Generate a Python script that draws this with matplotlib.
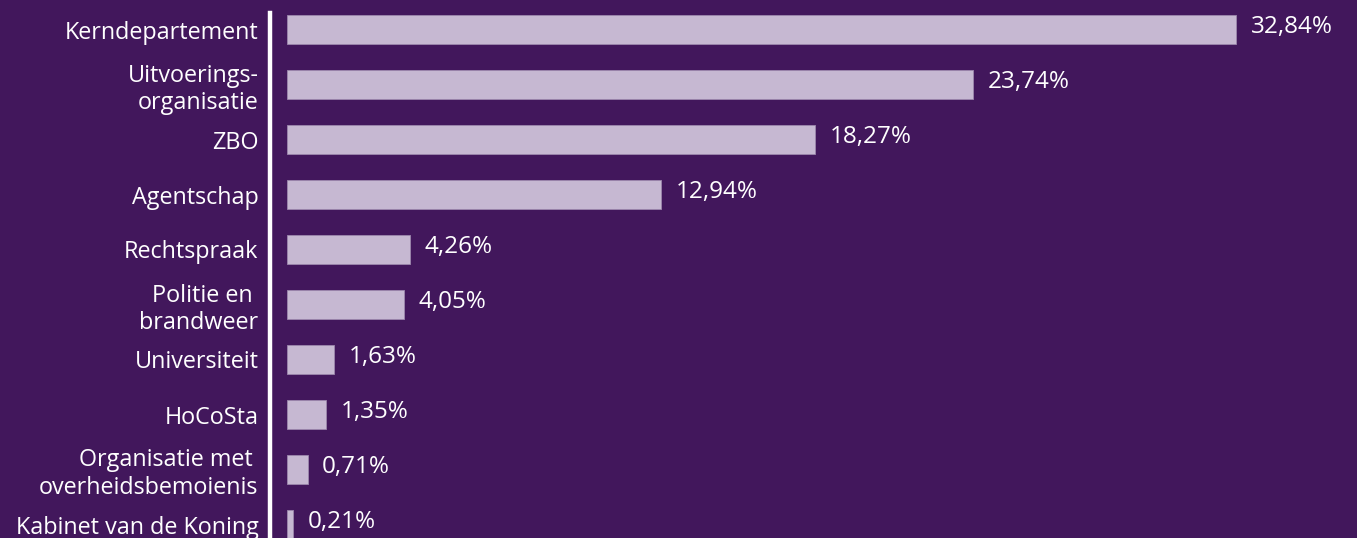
import matplotlib
matplotlib.use("Agg")
from matplotlib import pyplot as plt
from matplotlib.lines import Line2D

categories = [
    "Kerndepartement",
    "Uitvoerings-\norganisatie",
    "ZBO",
    "Agentschap",
    "Rechtspraak",
    "Politie en \nbrandweer",
    "Universiteit",
    "HoCoSta",
    "Organisatie met \noverheidsbemoienis",
    "Kabinet van de Koning",
]
values = [32.84, 23.74, 18.27, 12.94, 4.26, 4.05, 1.63, 1.35, 0.71, 0.21]
value_labels = ["32,84%", "23,74%", "18,27%", "12,94%", "4,26%",
                "4,05%", "1,63%", "1,35%", "0,71%", "0,21%"]

bg = '#42175c'
bar_color = '#c6b8d2'

plt.rcParams['font.family'] = ['Open Sans', 'DejaVu Sans']

W, H = 1357, 538
fig = plt.figure(figsize=(W / 100, H / 100), dpi=100)
fig.set_facecolor(bg)

# axes starts where the bars start, the white axis line is drawn separately
ax = fig.add_axes([287 / W, 0, 1 - 287 / W, 1])
ax.set_facecolor(bg)

pos = list(range(len(values)))
ax.barh(pos, values, height=0.53, color=bar_color, edgecolor='#9d88ad', linewidth=0.6)

# 55 px between bars, first bar centre at 29.5 px from top
ax.set_ylim((H - 29.5) / 55, -29.5 / 55)
ax.set_xlim(0, (W - 287) / 28.9)

for p, v, lab in zip(pos, values, value_labels):
    ax.annotate(lab, (v, p), xytext=(10.5, 1.5), textcoords='offset points',
                va='center', ha='left', color='white', fontsize=17.5)

ax.set_yticks(pos)
ax.set_yticklabels(categories, color='white', fontsize=16.8, linespacing=1.2)
ax.tick_params(axis='y', length=0, pad=20.5)
ax.set_xticks([])
for s in ax.spines.values():
    s.set_visible(False)

fig.add_artist(Line2D([269.5 / W, 269.5 / W], [0, 1 - 13 / H], color='white',
                      linewidth=3.2, transform=fig.transFigure))

fig.savefig('out.png', dpi=100, facecolor=bg)
